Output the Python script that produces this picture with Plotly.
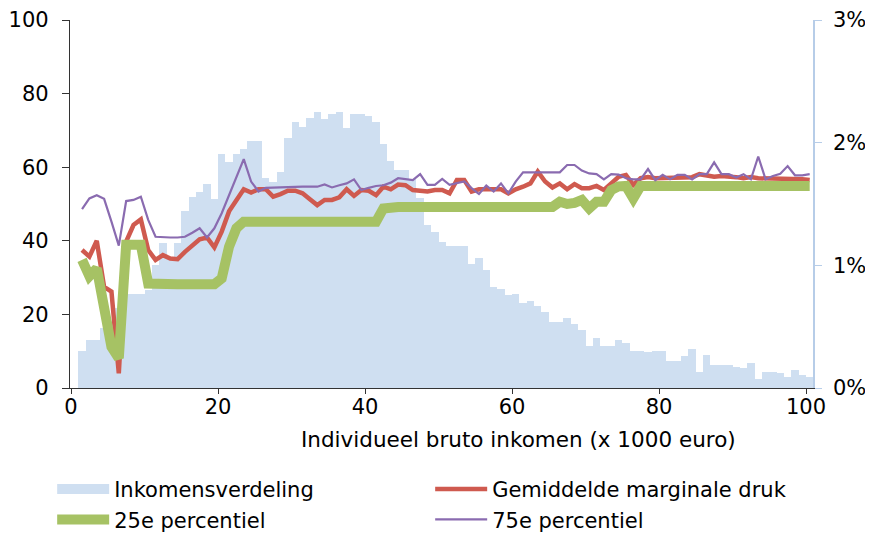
import plotly.graph_objects as go

# Income (x 1000 euro), one bin per 1000 euro
income = list(range(1, 101))

# Income distribution (% of persons per bin) - right axis
inkomensverdeling = [
    0.30, 0.39, 0.39, 0.49, 0.55, 0.65, 0.77, 0.77, 0.77, 0.80,
    1.00, 1.18, 1.06, 1.18, 1.44, 1.56, 1.60, 1.66, 1.54, 1.91,
    1.84, 1.91, 1.95, 2.01, 2.01, 1.71, 1.68, 1.76, 2.04, 2.17,
    2.13, 2.20, 2.25, 2.19, 2.23, 2.25, 2.12, 2.23, 2.23, 2.22,
    2.17, 1.99, 1.85, 1.78, 1.78, 1.70, 1.55, 1.33, 1.27, 1.19,
    1.16, 1.16, 1.16, 1.01, 1.06, 0.96, 0.82, 0.81, 0.76, 0.77,
    0.69, 0.71, 0.67, 0.62, 0.54, 0.54, 0.57, 0.52, 0.47, 0.34,
    0.41, 0.34, 0.34, 0.39, 0.37, 0.30, 0.30, 0.29, 0.30, 0.30,
    0.22, 0.22, 0.26, 0.32, 0.13, 0.27, 0.19, 0.19, 0.19, 0.17,
    0.16, 0.20, 0.07, 0.13, 0.13, 0.12, 0.09, 0.15, 0.11, 0.09,
]

# Average marginal pressure (%)
gemiddelde = [
    37.5, 35.7, 40.0, 27.5, 26.2, 4.0, 39.8, 44.3, 45.8, 37.5,
    34.8, 36.1, 35.2, 35.0, 37.0, 38.9, 40.4, 40.9, 38.2, 42.5,
    48.0, 51.0, 54.0, 53.1, 54.0, 54.0, 52.0, 52.7, 53.6, 53.6,
    52.9, 51.3, 49.7, 51.1, 51.1, 51.8, 54.0, 52.2, 53.8, 53.6,
    52.4, 54.7, 54.0, 55.3, 55.1, 53.8, 53.5, 53.4, 53.8, 53.8,
    52.9, 56.5, 56.5, 53.4, 54.0, 54.0, 54.0, 54.0, 52.9, 54.0,
    54.7, 55.6, 58.8, 56.1, 54.5, 55.6, 54.0, 55.4, 54.3, 54.3,
    54.9, 53.8, 55.6, 57.4, 57.9, 55.2, 57.0, 57.3, 57.0, 57.0,
    57.0, 57.0, 57.0, 57.3, 58.1, 57.9, 57.4, 57.6, 57.6, 57.3,
    57.0, 57.3, 57.0, 57.0, 57.0, 57.0, 56.7, 56.7, 56.7, 56.5,
]

# 25th percentile (%)
p25 = [
    34.8, 30.4, 32.5, 22.1, 11.2, 8.1, 38.9, 38.9, 38.9, 28.4,
    28.2, 28.2, 28.2, 28.2, 28.2, 28.2, 28.2, 28.2, 28.2, 29.8,
    38.4, 43.4, 45.2, 45.2, 45.2, 45.2, 45.2, 45.2, 45.2, 45.2,
    45.2, 45.2, 45.2, 45.2, 45.2, 45.2, 45.2, 45.2, 45.2, 45.2,
    45.2, 48.8, 49.2, 49.2, 49.2, 49.2, 49.2, 49.2, 49.2, 49.2,
    49.2, 49.2, 49.2, 49.2, 49.2, 49.2, 49.2, 49.2, 49.2, 49.2,
    49.2, 49.2, 49.2, 49.2, 49.2, 50.6, 50.0, 50.3, 51.1, 48.8,
    50.6, 50.6, 53.8, 54.8, 54.9, 51.5, 54.9, 54.9, 54.9, 54.9,
    54.9, 54.9, 54.9, 54.9, 54.9, 54.9, 54.9, 54.9, 54.9, 54.9,
    54.9, 54.9, 54.9, 54.9, 54.9, 54.9, 54.9, 54.9, 54.9, 54.9,
]

# 75th percentile (%)
p75 = [
    48.6, 51.5, 52.4, 51.4, 45.2, 38.7, 50.8, 51.1, 52.0, 45.7,
    41.1, 40.9, 40.9, 40.9, 41.1, 42.2, 43.4, 40.9, 43.4, 47.5,
    52.4, 57.4, 62.2, 56.1, 53.4, 54.4, 54.5, 54.5, 54.5, 54.7,
    54.7, 54.7, 54.7, 55.3, 54.5, 55.1, 55.6, 56.7, 53.8, 54.4,
    54.9, 55.1, 55.8, 57.0, 56.8, 56.5, 58.1, 55.2, 55.2, 56.8,
    55.2, 55.6, 56.1, 54.3, 52.7, 55.0, 53.4, 55.6, 52.9, 56.1,
    58.6, 58.6, 58.6, 58.6, 58.6, 58.6, 60.6, 60.6, 59.1, 58.3,
    58.1, 56.7, 58.1, 58.0, 57.0, 56.7, 56.7, 59.5, 56.5, 57.9,
    56.7, 57.9, 57.9, 56.7, 58.1, 58.1, 61.3, 58.1, 58.1, 57.2,
    58.1, 56.7, 62.9, 56.7, 57.6, 58.2, 60.3, 57.8, 57.8, 58.1,
]

x_title = "Individueel bruto inkomen (x 1000 euro)"

# bin centres
xc = [v + 0.5 for v in income]

FONT = "DejaVu Sans"
FS = 21
BAR_COLOR = "#cfdff1"

fig = go.Figure()
# bars on primary (right-side) axis so that the lines (overlaying axis) are drawn on top
fig.add_trace(go.Bar(
    x=xc, y=[v / 100 for v in inkomensverdeling], width=1,
    name="Inkomensverdeling", marker=dict(color=BAR_COLOR, line=dict(width=0)),
    yaxis="y", showlegend=False,
))
# legend-only entry giving the wide rectangle swatch
fig.add_trace(go.Scatter(
    x=[None], y=[None], mode="lines", name="Inkomensverdeling",
    line=dict(color=BAR_COLOR, width=15), yaxis="y2",
))
fig.add_trace(go.Scatter(
    x=xc, y=gemiddelde, mode="lines", name="Gemiddelde marginale druk",
    line=dict(color="#cf5a4f", width=4.5), yaxis="y2",
))
fig.add_trace(go.Scatter(
    x=xc, y=p25, mode="lines", name="25e percentiel",
    line=dict(color="#a6c264", width=10), yaxis="y2",
))
fig.add_trace(go.Scatter(
    x=xc, y=p75, mode="lines", name="75e percentiel",
    line=dict(color="#8a6bb0", width=2.2), yaxis="y2",
))

fig.add_annotation(
    text=x_title, xref="paper", yref="paper", x=0.603, y=-0.1413,
    xanchor="center", yanchor="middle", showarrow=False,
    font=dict(family=FONT, size=21.5, color="#000"),
)

fig.update_layout(
    width=865, height=526,
    margin=dict(l=62, r=60, t=12, b=146, autoexpand=False),
    paper_bgcolor="white", plot_bgcolor="white",
    font=dict(family=FONT, size=FS, color="#000"),
    bargap=0,
    showlegend=True,
    legend=dict(
        orientation="h", x=-0.024, xanchor="left", y=-0.22, yanchor="top",
        entrywidth=311, entrywidthmode="pixels", itemwidth=52,
        font=dict(family=FONT, size=FS, color="#000"),
        traceorder="normal", tracegroupgap=0, bgcolor="rgba(0,0,0,0)",
    ),
    xaxis=dict(
        range=[-0.14, 100.95], tickmode="array", tickvals=[0, 20, 40, 60, 80, 100],
        showline=True, linecolor="#333", linewidth=1.2, ticks="outside",
        ticklen=5, tickcolor="#333", showgrid=False, zeroline=False,
        ticklabelstandoff=-5,
    ),
    yaxis=dict(
        range=[0, 0.03], tickvals=[0, 0.01, 0.02, 0.03], tickformat=".0%",
        side="right",
        showline=True, linecolor="#b7cde8", linewidth=1.5, ticks="outside",
        ticklen=7, tickcolor="#b7cde8", showgrid=False, zeroline=False,
        ticklabelstandoff=7,
    ),
    yaxis2=dict(
        range=[0, 100], tickvals=[0, 20, 40, 60, 80, 100],
        overlaying="y", side="left",
        showline=True, linecolor="#333", linewidth=1.2, ticks="outside",
        ticklen=7, tickcolor="#333", showgrid=False, zeroline=False,
        ticklabelstandoff=9,
    ),
)

fig.write_html("out.html")
